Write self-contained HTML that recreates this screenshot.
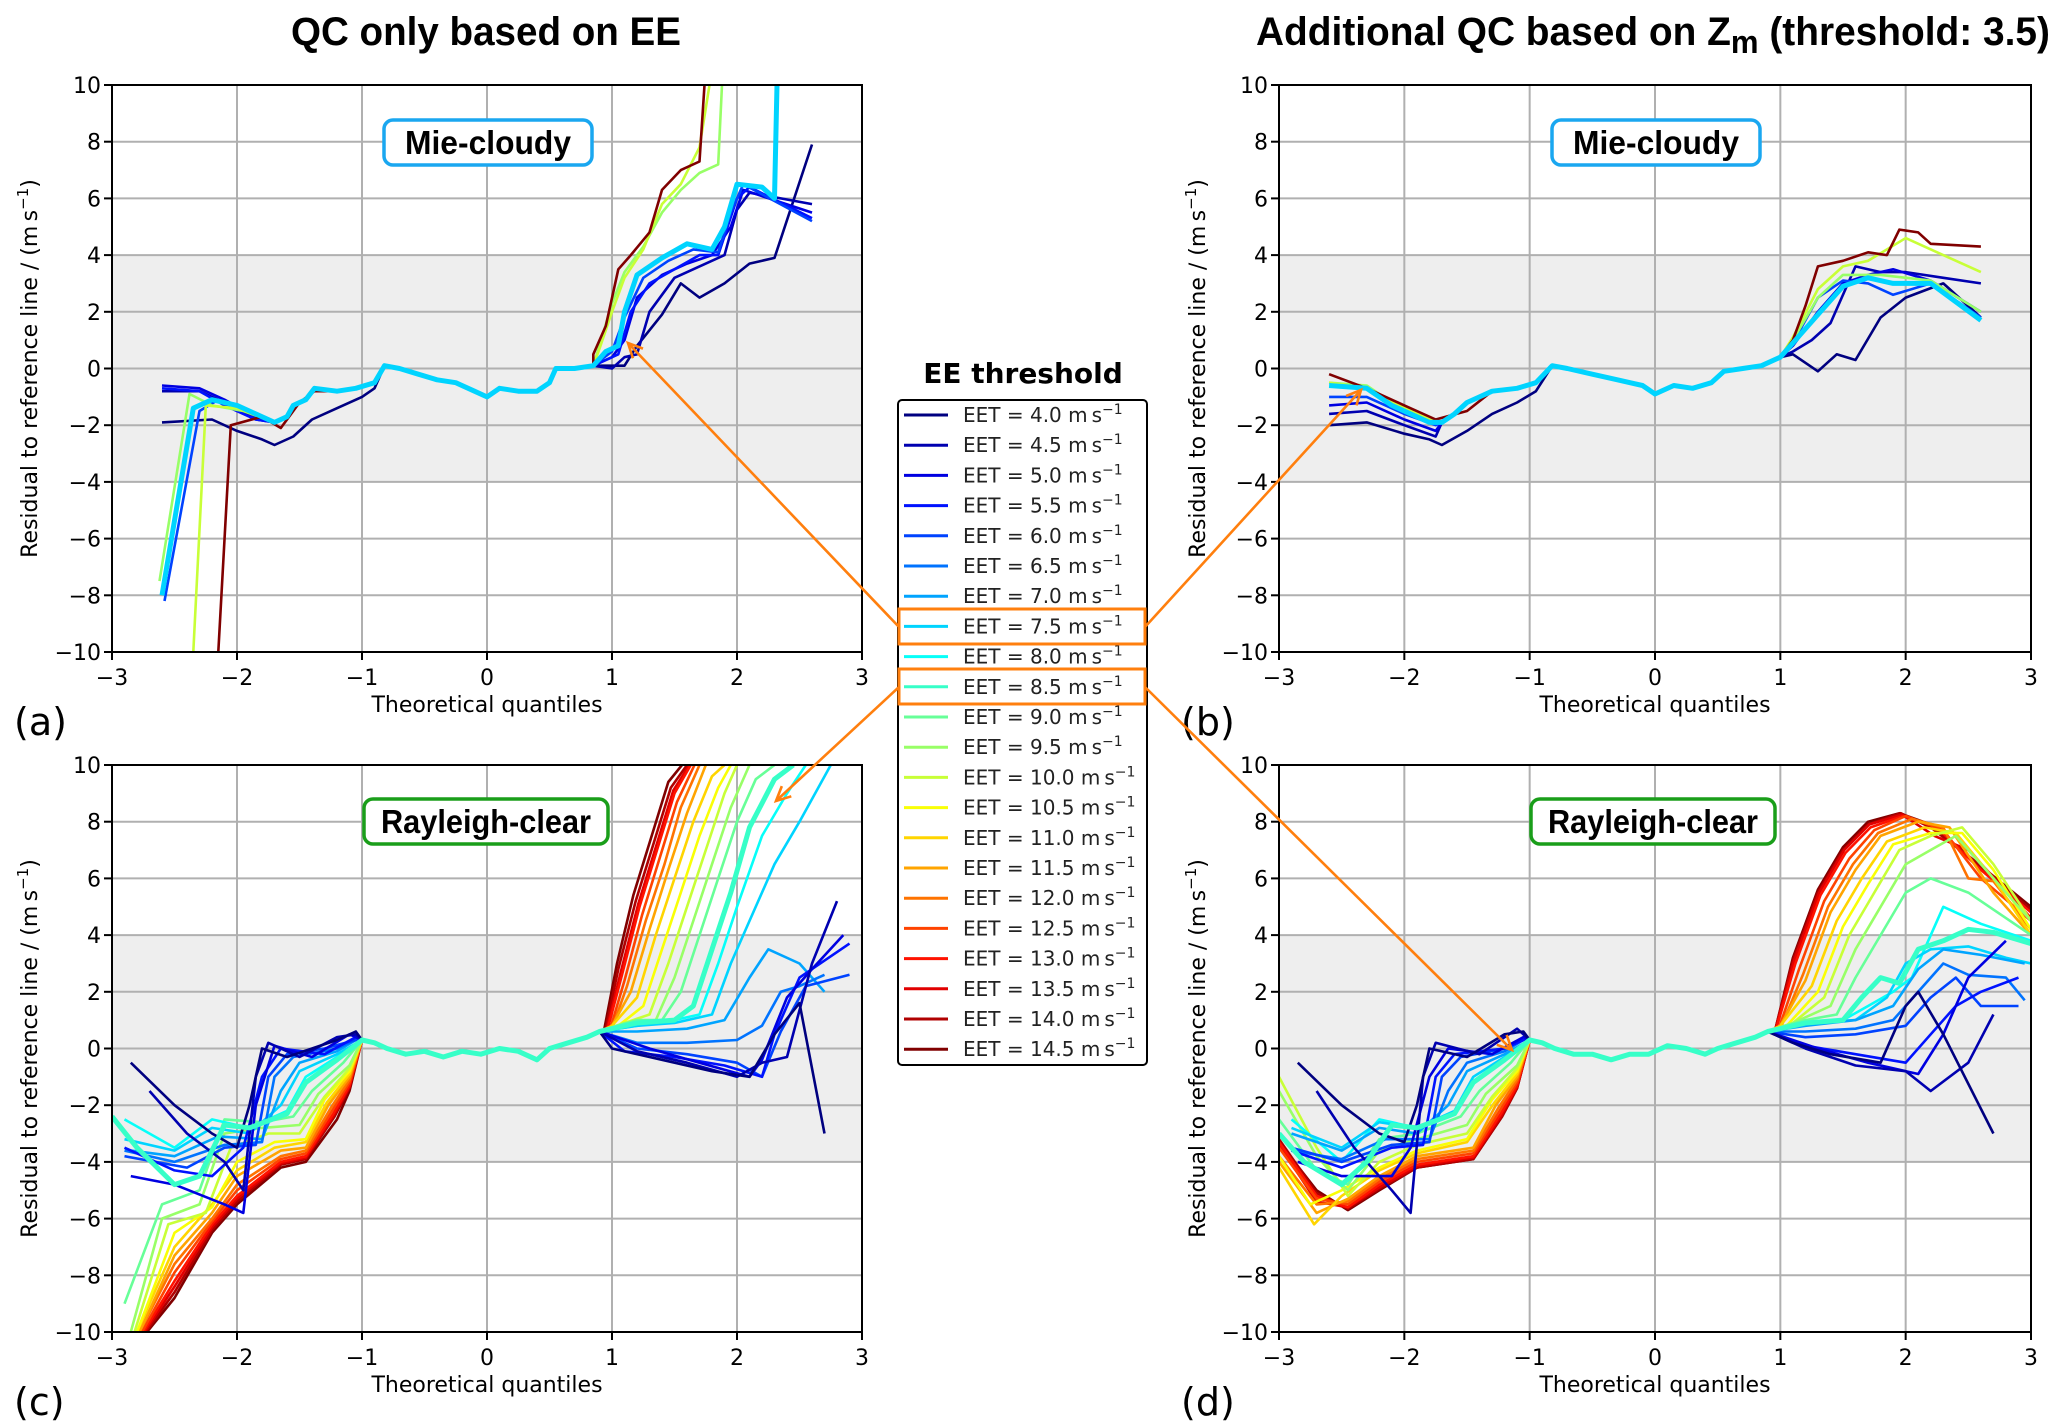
<!DOCTYPE html>
<html><head><meta charset="utf-8"><style>
html,body{margin:0;padding:0;background:#fff;width:2067px;height:1428px;overflow:hidden}
svg{display:block}
</style></head><body>
<svg id="fig" width="2067" height="1428" viewBox="0 0 2067 1428" xmlns="http://www.w3.org/2000/svg"></svg>
<script>
const xTicks=[-3,-2,-1,0,1,2,3];
const yTicks=[-10,-8,-6,-4,-2,0,2,4,6,8,10];
const eetValues=[4.0,4.5,5.0,5.5,6.0,6.5,7.0,7.5,8.0,8.5,9.0,9.5,10.0,10.5,11.0,11.5,12.0,12.5,13.0,13.5,14.0,14.5];
const bandLow=-4, bandHigh=4;

// ---------- panel a (Mie-cloudy, EE only) ----------
const aLeft=[[-1.7,-1.9],[-1.6,-1.7],[-1.55,-1.3],[-1.45,-1.1],[-1.38,-0.7],[-1.2,-0.8],[-1.05,-0.7],[-0.9,-0.5]];
const aCore=[[-0.82,0.1],[-0.7,0.0],[-0.55,-0.2],[-0.4,-0.4],[-0.25,-0.5],[-0.1,-0.8],[0,-1.0],[0.1,-0.7],[0.25,-0.8],[0.4,-0.8],[0.5,-0.5],[0.55,0.0],[0.7,0.0],[0.85,0.1]];
const aS0=[[-2.6,-1.9],[-2.2,-1.8],[-2.0,-2.2],[-1.8,-2.5],[-1.7,-2.7],[-1.55,-2.4],[-1.4,-1.8],[-1.2,-1.4],[-1.0,-1.0],[-0.9,-0.7],...aCore,[1.1,0.1],[1.2,0.8],[1.4,1.9],[1.55,3.0],[1.7,2.5],[1.9,3.0],[2.1,3.7],[2.3,3.9],[2.6,7.9]];
const aS1=[[-2.6,-0.8],[-2.3,-0.8],[-2.1,-1.2],[-1.85,-1.8],...aLeft,...aCore,[1.0,0.0],[1.1,0.4],[1.2,0.5],[1.3,2.0],[1.5,3.2],[1.7,3.6],[1.9,4.0],[2.0,5.6],[2.1,6.2],[2.6,5.8]];
const aS2=[[-2.6,-0.6],[-2.3,-0.7],[-2.1,-1.1],[-1.85,-1.7],...aLeft,...aCore,[1.0,0.4],[1.1,1.0],[1.2,2.5],[1.4,3.3],[1.6,3.7],[1.8,4.0],[1.95,5.0],[2.05,6.3],[2.6,5.5]];
const aS3=[[-2.6,-0.7],[-2.3,-0.8],[-2.1,-1.3],[-1.85,-1.8],...aLeft,...aCore,[1.05,0.5],[1.15,2.0],[1.3,3.0],[1.5,3.5],[1.7,4.0],[1.85,4.0],[2.0,6.0],[2.1,6.4],[2.6,5.3]];
const aS4=[[-2.58,-8.2],[-2.3,-1.5],[-2.15,-1.1],[-1.9,-1.5],...aLeft,...aCore,[1.0,0.6],[1.1,1.8],[1.25,3.2],[1.45,3.8],[1.65,4.2],[1.85,4.1],[1.95,5.5],[2.05,6.5],[2.6,5.2]];
const aS7=[[-2.6,-8.0],[-2.35,-1.4],[-2.2,-1.1],[-2.0,-1.3],...aLeft,...aCore,[0.95,0.6],[1.05,0.8],[1.1,2.0],[1.2,3.3],[1.4,3.9],[1.6,4.4],[1.8,4.2],[1.9,5.0],[2.0,6.5],[2.2,6.4],[2.3,6.0],[2.32,10]];
const aS11=[[-2.62,-7.5],[-2.38,-0.9],[-2.2,-1.3],[-1.95,-1.5],...aLeft,...aCore,[0.9,0.8],[1.0,2.3],[1.1,3.4],[1.25,4.3],[1.4,5.5],[1.55,6.3],[1.7,6.9],[1.85,7.2],[1.88,10]];
const aS12=[[-2.35,-10],[-2.25,-1.3],[-2.0,-1.4],...aLeft,...aCore,[0.9,0.7],[1.0,2.0],[1.1,3.2],[1.25,4.2],[1.4,5.8],[1.55,6.5],[1.7,7.8],[1.78,10]];
const aS21=[[-2.15,-10],[-2.05,-2.0],[-1.8,-1.7],[-1.65,-2.1],[-1.5,-1.2],[-1.38,-0.8],[-1.2,-0.8],[-1.05,-0.7],[-0.9,-0.5],...aCore,[0.85,0.5],[0.95,1.5],[1.05,3.5],[1.15,4.0],[1.3,4.8],[1.4,6.3],[1.55,7.0],[1.7,7.3],[1.74,10]];
const aIdx=[0,1,2,3,4,11,12,21,7];
const aSeries=[aS0,aS1,aS2,aS3,aS4,aS11,aS12,aS21,aS7];

// ---------- panel b (Mie-cloudy, Zm QC) ----------
const bLeft=[[-1.7,-1.9],[-1.6,-1.6],[-1.5,-1.2],[-1.4,-1.0],[-1.3,-0.8],[-1.1,-0.7],[-0.95,-0.5]];
const bCore=[[-0.82,0.1],[-0.7,0.0],[-0.5,-0.2],[-0.3,-0.4],[-0.1,-0.6],[0,-0.9],[0.15,-0.6],[0.3,-0.7],[0.45,-0.5],[0.55,-0.1],[0.7,0.0],[0.85,0.1],[1.0,0.4]];
const bS0=[[-2.6,-2.0],[-2.3,-1.9],[-2.0,-2.3],[-1.8,-2.5],[-1.7,-2.7],[-1.5,-2.2],[-1.3,-1.6],[-1.1,-1.2],[-0.95,-0.8],...bCore,[1.1,0.5],[1.3,-0.1],[1.45,0.5],[1.6,0.3],[1.8,1.8],[2.0,2.5],[2.3,3.0],[2.6,1.8]];
const bS1=[[-2.6,-1.6],[-2.3,-1.5],[-2.0,-2.0],[-1.75,-2.4],...bLeft,...bCore,[1.1,0.6],[1.25,1.0],[1.4,1.6],[1.6,3.6],[1.8,3.4],[2.0,3.4],[2.3,3.2],[2.6,3.0]];
const bS2=[[-2.6,-1.3],[-2.3,-1.2],[-2.0,-1.8],[-1.75,-2.2],...bLeft,...bCore,[1.1,0.8],[1.3,2.0],[1.5,3.0],[1.7,3.3],[1.9,3.5],[2.2,3.1],[2.6,2.0]];
const bS4=[[-2.6,-1.0],[-2.3,-1.0],[-2.0,-1.6],[-1.75,-2.0],...bLeft,...bCore,[1.1,0.9],[1.3,2.5],[1.5,3.1],[1.7,3.0],[1.9,2.6],[2.2,3.0],[2.6,1.8]];
const bS11=[[-2.6,-0.5],[-2.3,-0.6],[-2.1,-1.2],[-1.8,-1.8],...bLeft,...bCore,[1.1,1.0],[1.3,2.5],[1.5,3.3],[1.8,3.3],[2.2,3.1],[2.6,2.0]];
const bS12=[[-2.6,-0.5],[-2.3,-0.7],[-2.1,-1.2],[-1.8,-1.8],...bLeft,...bCore,[1.1,1.1],[1.3,2.8],[1.5,3.6],[1.7,3.8],[2.0,4.6],[2.6,3.4]];
const bS21=[[-2.6,-0.2],[-2.3,-0.7],[-2.0,-1.3],[-1.75,-1.8],[-1.5,-1.5],[-1.3,-0.8],[-1.1,-0.7],[-0.95,-0.5],...bCore,[1.1,1.0],[1.2,2.2],[1.3,3.6],[1.5,3.8],[1.7,4.1],[1.85,4.0],[1.95,4.9],[2.1,4.8],[2.2,4.4],[2.6,4.3]];
const bS7=[[-2.6,-0.6],[-2.3,-0.7],[-2.1,-1.3],[-1.8,-1.9],...bLeft,...bCore,[1.1,0.9],[1.3,1.9],[1.5,2.9],[1.7,3.2],[1.9,3.0],[2.2,3.0],[2.6,1.7]];
const bIdx=[0,1,2,4,11,12,21,7];
const bSeries=[bS0,bS1,bS2,bS4,bS11,bS12,bS21,bS7];

// ---------- panel c (Rayleigh-clear, EE only) ----------
const cCore=[[-1.0,0.3],[-0.9,0.2],[-0.8,0.0],[-0.65,-0.2],[-0.5,-0.1],[-0.35,-0.3],[-0.2,-0.1],[-0.05,-0.2],[0.1,0.0],[0.25,-0.1],[0.4,-0.4],[0.5,0.0],[0.65,0.2],[0.8,0.4],[0.9,0.6]];
const cS0=[[-2.85,-0.5],[-2.5,-2.0],[-2.2,-3.0],[-2.0,-3.5],[-1.9,-2.0],[-1.8,0],[-1.6,-0.3],[-1.4,0],[-1.2,0.3],[-1.05,0.6],...cCore,[1.0,0],[1.4,-0.4],[1.8,-0.8],[2.1,-1.0],[2.3,0.5],[2.5,1.6],[2.7,-3.0]];
const cS1=[[-2.7,-1.5],[-2.4,-3.0],[-2.1,-4.0],[-1.95,-5.0],[-1.85,-1.0],[-1.75,0.2],[-1.5,-0.3],[-1.2,0.4],[-1.05,0.5],...cCore,[1.2,-0.1],[1.6,-0.5],[2.0,-1.0],[2.2,-0.5],[2.4,-0.3],[2.6,3.0],[2.8,5.2]];
const cS2=[[-2.85,-4.5],[-2.5,-4.8],[-2.1,-5.5],[-1.95,-5.8],[-1.85,-2.0],[-1.7,0.1],[-1.4,-0.3],[-1.1,0.5],...cCore,[1.3,0],[1.7,-0.5],[2.1,-1.0],[2.2,-0.4],[2.4,1.8],[2.6,2.8],[2.85,4.0]];
const cS3=[[-2.9,-3.5],[-2.5,-4.3],[-2.2,-4.5],[-1.95,-3.5],[-1.8,-1.0],[-1.65,0],[-1.3,-0.2],[-1.05,0.4],...cCore,[1.1,-0.1],[1.5,-0.3],[1.9,-0.6],[2.2,-1.0],[2.3,0.5],[2.5,2.5],[2.9,3.7]];
const cS4=[[-2.9,-3.8],[-2.4,-4.2],[-2.1,-3.5],[-1.85,-3.4],[-1.75,-1.0],[-1.6,-0.2],[-1.3,0],[-1.05,0.3],...cCore,[1.2,0],[1.6,-0.2],[2.0,-0.5],[2.2,-1.0],[2.35,0.6],[2.55,2.2],[2.9,2.6]];
const cS5=[[-2.9,-3.6],[-2.5,-4.0],[-2.1,-3.4],[-1.8,-3.3],[-1.7,-1.0],[-1.55,-0.3],[-1.2,0],[-1.05,0.3],...cCore,[1.2,0.2],[1.6,0.2],[2.0,0.3],[2.2,0.8],[2.35,2.0],[2.5,2.2],[2.7,2.6]];
const cS6=[[-2.85,-3.6],[-2.5,-3.8],[-2.15,-3.1],[-1.8,-3.2],[-1.65,-1.5],[-1.5,-0.5],[-1.2,-0.1],[-1.05,0.3],...cCore,[1.2,0.6],[1.6,0.7],[1.9,1.0],[2.1,2.5],[2.25,3.5],[2.5,3.0],[2.7,2.0]];
const cS7=[[-2.9,-3.2],[-2.5,-3.6],[-2.2,-2.8],[-1.9,-3.0],[-1.65,-2.0],[-1.5,-0.8],[-1.2,-0.2],...cCore,[1.2,0.8],[1.5,0.9],[1.8,1.2],[1.95,3.0],[2.1,4.5],[2.3,6.5],[2.5,8.0],[2.75,10]];
const cS8=[[-2.9,-2.5],[-2.5,-3.5],[-2.2,-2.5],[-1.9,-2.8],[-1.6,-2.2],[-1.45,-1.0],[-1.2,-0.3],...cCore,[1.2,0.8],[1.5,1.0],[1.7,1.2],[1.85,3.0],[2.0,5.0],[2.2,7.5],[2.4,9.0],[2.55,10]];
const cS9=[[-3,-2.4],[-2.8,-3.5],[-2.5,-4.8],[-2.3,-4.5],[-2.1,-2.7],[-1.9,-2.8],[-1.6,-2.3],[-1.45,-1.2],[-1.2,-0.4],...cCore,[1.2,0.9],[1.5,1.0],[1.65,1.5],[1.8,3.5],[1.95,5.5],[2.1,7.8],[2.3,9.5],[2.45,10]];
const cS10=[[-2.9,-9],[-2.6,-5.5],[-2.3,-5.0],[-2.1,-2.5],[-1.8,-2.6],[-1.55,-2.4],[-1.4,-1.5],[-1.15,-0.5],...cCore,[1.2,1.0],[1.4,1.0],[1.55,2.0],[1.7,4.0],[1.85,6.0],[2.0,8.0],[2.15,9.5],[2.3,10]];
const cS11=[[-2.85,-10],[-2.6,-6],[-2.3,-5.5],[-2.1,-3.0],[-1.8,-2.8],[-1.5,-2.7],[-1.35,-1.6],[-1.1,-0.6],...cCore,[1.1,0.9],[1.35,1.0],[1.5,2.5],[1.65,4.5],[1.8,6.5],[1.95,8.5],[2.1,10]];
const cS12=[[-2.82,-10],[-2.55,-6.2],[-2.25,-5.8],[-2.05,-3.5],[-1.75,-3.0],[-1.5,-3.0],[-1.3,-1.7],[-1.1,-0.7],...cCore,[1.1,0.9],[1.3,1.2],[1.45,3.0],[1.6,5.0],[1.75,7.0],[1.9,9.0],[2.0,10]];
const cS13=[[-2.8,-10],[-2.5,-6.5],[-2.2,-5.6],[-2.0,-4.0],[-1.7,-3.3],[-1.45,-3.2],[-1.3,-1.8],[-1.1,-0.8],...cCore,[1.05,0.8],[1.25,1.5],[1.4,3.5],[1.55,5.5],[1.7,7.5],[1.85,9.2],[1.95,10]];
const cS14=[[-2.8,-10],[-2.5,-7.0],[-2.2,-5.5],[-2.0,-4.3],[-1.7,-3.5],[-1.45,-3.3],[-1.28,-1.9],[-1.1,-0.9],...cCore,[1.0,0.8],[1.2,1.8],[1.35,4.0],[1.5,6.0],[1.65,8.0],[1.8,9.6],[1.9,10]];
const cS15=[[-2.78,-10],[-2.5,-7.3],[-2.2,-5.8],[-2.0,-4.5],[-1.65,-3.6],[-1.45,-3.5],[-1.27,-2.0],[-1.1,-1.0],...cCore,[1.0,0.8],[1.15,2.0],[1.3,4.2],[1.45,6.3],[1.6,8.3],[1.75,10]];
const cS16=[[-2.78,-10],[-2.5,-7.6],[-2.2,-6.0],[-2.0,-4.8],[-1.65,-3.8],[-1.45,-3.6],[-1.25,-2.1],[-1.1,-1.1],...cCore,[1.0,0.7],[1.12,2.2],[1.27,4.5],[1.42,6.5],[1.55,8.5],[1.7,10]];
const cS17=[[-2.76,-10],[-2.5,-7.9],[-2.2,-6.1],[-2.0,-5.0],[-1.65,-3.9],[-1.45,-3.7],[-1.24,-2.2],[-1.1,-1.2],...cCore,[0.98,0.6],[1.1,2.4],[1.24,4.7],[1.38,6.7],[1.52,8.7],[1.66,10]];
const cS18=[[-2.75,-10],[-2.5,-8.2],[-2.2,-6.2],[-2.0,-5.2],[-1.65,-4.0],[-1.45,-3.8],[-1.23,-2.3],[-1.1,-1.3],...cCore,[0.96,0.6],[1.08,2.6],[1.22,5.0],[1.36,7.0],[1.5,9.0],[1.63,10]];
const cS19=[[-2.74,-10],[-2.5,-8.4],[-2.2,-6.3],[-2.0,-5.3],[-1.65,-4.05],[-1.45,-3.85],[-1.225,-2.35],[-1.1,-1.35],...cCore,[0.95,0.55],[1.07,2.7],[1.21,5.1],[1.35,7.1],[1.49,9.1],[1.62,10]];
const cS20=[[-2.73,-10],[-2.5,-8.6],[-2.2,-6.4],[-2.0,-5.4],[-1.65,-4.1],[-1.45,-3.9],[-1.22,-2.4],[-1.1,-1.4],...cCore,[0.94,0.5],[1.05,2.8],[1.19,5.2],[1.33,7.2],[1.47,9.2],[1.6,10]];
const cS21=[[-2.72,-10],[-2.5,-8.8],[-2.2,-6.5],[-2.0,-5.5],[-1.65,-4.2],[-1.45,-4.0],[-1.2,-2.5],[-1.1,-1.5],...cCore,[0.93,0.5],[1.04,3.0],[1.17,5.4],[1.31,7.4],[1.45,9.4],[1.56,10]];
const cIdx=[21,20,19,18,17,16,15,14,13,12,11,10,8,7,6,5,4,3,2,1,0,9];
const cSeries=[cS21,cS20,cS19,cS18,cS17,cS16,cS15,cS14,cS13,cS12,cS11,cS10,cS8,cS7,cS6,cS5,cS4,cS3,cS2,cS1,cS0,cS9];

// ---------- panel d (Rayleigh-clear, Zm QC) ----------
const dCore=[[-1.0,0.3],[-0.9,0.2],[-0.8,0.0],[-0.65,-0.2],[-0.5,-0.2],[-0.35,-0.4],[-0.2,-0.2],[-0.05,-0.2],[0.1,0.1],[0.25,0.0],[0.4,-0.2],[0.5,0.0],[0.65,0.2],[0.8,0.4],[0.9,0.6]];
const dS0=[[-2.85,-0.5],[-2.5,-2.0],[-2.2,-3.0],[-2.0,-3.3],[-1.9,-2.0],[-1.8,0],[-1.5,-0.3],[-1.2,0.5],[-1.05,0.6],...dCore,[1.1,0.2],[1.4,-0.2],[1.8,-0.5],[2.0,1.5],[2.1,2.0],[2.3,0.5],[2.7,-3.0]];
const dS1=[[-2.7,-1.5],[-2.4,-3.5],[-2.1,-5.0],[-1.95,-5.8],[-1.85,-1.0],[-1.75,0.2],[-1.4,-0.2],[-1.1,0.7],...dCore,[1.2,0],[1.6,-0.6],[2.0,-0.8],[2.2,-1.5],[2.5,-0.5],[2.7,1.2]];
const dS2=[[-2.85,-4.0],[-2.5,-4.5],[-2.1,-4.5],[-1.95,-3.5],[-1.8,-1.0],[-1.65,0],[-1.3,-0.2],[-1.05,0.4],...dCore,[1.3,0],[1.7,-0.5],[2.1,-0.9],[2.3,0.5],[2.5,2.5],[2.8,3.8]];
const dS3=[[-2.9,-3.6],[-2.5,-4.2],[-2.1,-3.5],[-1.85,-3.4],[-1.75,-1.0],[-1.6,-0.2],[-1.2,0],[-1.05,0.3],...dCore,[1.2,0.1],[1.6,-0.2],[2.0,-0.5],[2.2,0.5],[2.4,1.5],[2.6,2.0],[2.9,2.5]];
const dS4=[[-2.9,-3.5],[-2.5,-4.0],[-2.1,-3.4],[-1.8,-3.3],[-1.7,-1.0],[-1.55,-0.3],[-1.2,0],[-1.05,0.3],...dCore,[1.2,0.4],[1.6,0.5],[2.0,0.8],[2.2,1.8],[2.4,2.5],[2.6,1.5],[2.9,1.5]];
const dS5=[[-2.9,-3.6],[-2.5,-3.9],[-2.15,-3.2],[-1.8,-3.2],[-1.65,-1.5],[-1.5,-0.5],[-1.2,-0.1],[-1.05,0.3],...dCore,[1.2,0.6],[1.6,0.7],[1.9,1.0],[2.1,2.0],[2.3,3.0],[2.5,2.6],[2.8,2.5],[2.95,1.7]];
const dS6=[[-2.9,-3.0],[-2.5,-3.6],[-2.2,-2.8],[-1.9,-3.0],[-1.65,-2.0],[-1.5,-0.8],[-1.2,-0.2],...dCore,[1.2,0.8],[1.6,1.0],[1.9,1.5],[2.1,2.8],[2.3,3.5],[2.6,3.3],[2.95,3.0]];
const dS7=[[-2.9,-2.8],[-2.5,-3.5],[-2.2,-2.6],[-1.9,-2.8],[-1.6,-2.2],[-1.45,-1.0],[-1.2,-0.3],...dCore,[1.2,0.9],[1.6,1.0],[1.85,1.8],[2.0,3.0],[2.2,3.5],[2.5,3.6],[2.8,3.2],[3.0,3.0]];
const dS8=[[-2.9,-2.5],[-2.5,-4.0],[-2.2,-2.5],[-1.9,-2.8],[-1.6,-2.3],[-1.45,-1.2],[-1.2,-0.4],...dCore,[1.2,0.9],[1.5,1.0],[1.7,1.5],[1.9,2.0],[2.05,2.5],[2.3,5.0],[2.6,4.4],[3.0,3.8]];
const dS9=[[-3,-3.0],[-2.8,-4.0],[-2.5,-4.8],[-2.3,-4.0],[-2.1,-2.7],[-1.9,-2.8],[-1.6,-2.3],[-1.45,-1.2],[-1.2,-0.4],...dCore,[1.2,0.9],[1.5,1.0],[1.65,1.8],[1.8,2.5],[1.95,2.3],[2.1,3.5],[2.3,3.8],[2.5,4.2],[2.7,4.1],[3.0,3.7]];
const dS10=[[-3,-2.5],[-2.7,-4.3],[-2.45,-4.8],[-2.2,-3.2],[-1.9,-3.0],[-1.55,-2.4],[-1.4,-1.5],[-1.15,-0.5],...dCore,[1.2,1.0],[1.45,1.2],[1.6,2.5],[1.8,4.0],[2.0,5.5],[2.2,6.0],[2.5,5.5],[3.0,4.0]];
const dS11=[[-3,-1.5],[-2.7,-3.8],[-2.45,-5.0],[-2.2,-3.6],[-1.9,-3.2],[-1.5,-2.7],[-1.35,-1.6],[-1.1,-0.6],...dCore,[1.1,0.9],[1.4,1.5],[1.6,3.5],[1.8,5.0],[2.0,6.5],[2.2,7.0],[2.4,7.5],[2.7,6.0],[3.0,4.5]];
const dS12=[[-3,-1.0],[-2.7,-3.5],[-2.45,-5.2],[-2.2,-4.0],[-1.9,-3.4],[-1.5,-3.0],[-1.3,-1.7],[-1.1,-0.7],...dCore,[1.1,0.9],[1.35,1.8],[1.55,4.0],[1.75,5.5],[1.95,7.0],[2.2,7.5],[2.45,7.8],[2.7,6.5],[3.0,4.5]];
const dS13=[[-3,-3.8],[-2.75,-5.5],[-2.5,-5.0],[-2.2,-4.2],[-1.9,-3.6],[-1.5,-3.2],[-1.3,-1.8],[-1.1,-0.8],...dCore,[1.05,0.8],[1.3,2.0],[1.5,4.3],[1.7,5.8],[1.9,7.2],[2.2,7.6],[2.45,7.6],[2.7,6.3],[3.0,4.2]];
const dS14=[[-3,-4.2],[-2.72,-6.2],[-2.5,-5.2],[-2.2,-4.3],[-1.9,-3.7],[-1.5,-3.3],[-1.28,-1.9],[-1.1,-0.9],...dCore,[1.0,0.8],[1.25,2.2],[1.45,4.5],[1.65,6.0],[1.85,7.3],[2.15,7.8],[2.4,7.6],[2.7,6.0],[3.0,4.0]];
const dS15=[[-3,-4.0],[-2.7,-5.8],[-2.45,-5.3],[-2.2,-4.5],[-1.9,-3.8],[-1.45,-3.5],[-1.27,-2.0],[-1.1,-1.0],...dCore,[1.0,0.8],[1.2,2.4],[1.4,4.8],[1.6,6.3],[1.8,7.5],[2.1,8.0],[2.35,7.8],[2.7,5.5],[3.0,4.0]];
const dS16=[[-3,-3.8],[-2.7,-5.5],[-2.45,-5.4],[-2.2,-4.6],[-1.9,-3.9],[-1.45,-3.6],[-1.25,-2.1],[-1.1,-1.1],...dCore,[1.0,0.7],[1.18,2.6],[1.38,5.0],[1.58,6.5],[1.78,7.6],[2.05,8.1],[2.3,7.8],[2.5,6.0],[2.7,5.9],[3.0,4.2]];
const dS17=[[-3,-3.5],[-2.7,-5.3],[-2.45,-5.5],[-2.2,-4.7],[-1.9,-4.0],[-1.45,-3.7],[-1.24,-2.2],[-1.1,-1.2],...dCore,[0.98,0.6],[1.15,2.8],[1.35,5.2],[1.55,6.7],[1.75,7.7],[2.0,8.2],[2.3,7.7],[2.6,6.0],[3.0,4.5]];
const dS18=[[-3,-3.3],[-2.7,-5.2],[-2.45,-5.6],[-2.2,-4.8],[-1.9,-4.1],[-1.45,-3.8],[-1.23,-2.3],[-1.1,-1.3],...dCore,[0.96,0.6],[1.12,3.0],[1.32,5.4],[1.52,6.9],[1.72,7.8],[1.98,8.2],[2.25,7.8],[2.6,6.3],[3.0,4.8]];
const dS19=[[-3,-3.4],[-2.7,-5.4],[-2.45,-5.6],[-2.2,-4.9],[-1.9,-4.15],[-1.45,-3.85],[-1.225,-2.35],[-1.1,-1.35],...dCore,[0.955,0.55],[1.11,3.1],[1.31,5.5],[1.51,7.0],[1.71,7.9],[1.97,8.25],[2.23,7.5],[2.5,7.0],[3.0,4.6]];
const dS20=[[-3,-3.2],[-2.7,-5.1],[-2.45,-5.65],[-2.2,-4.95],[-1.9,-4.2],[-1.45,-3.9],[-1.22,-2.4],[-1.1,-1.4],...dCore,[0.95,0.5],[1.1,3.1],[1.3,5.5],[1.5,7.0],[1.7,7.9],[1.96,8.3],[2.2,7.8],[2.55,6.6],[3.0,4.9]];
const dS21=[[-3,-3.3],[-2.7,-5.0],[-2.45,-5.7],[-2.2,-5.0],[-1.9,-4.2],[-1.45,-3.9],[-1.22,-2.4],[-1.1,-1.4],...dCore,[0.95,0.5],[1.1,3.2],[1.3,5.6],[1.5,7.1],[1.7,8.0],[1.95,8.3],[2.2,7.9],[2.5,6.8],[3.0,5.0]];
const dIdx=[21,20,19,18,17,16,15,14,13,12,11,10,8,7,6,5,4,3,2,1,0,9];
const dSeries=[dS21,dS20,dS19,dS18,dS17,dS16,dS15,dS14,dS13,dS12,dS11,dS10,dS8,dS7,dS6,dS5,dS4,dS3,dS2,dS1,dS0,dS9];

const NS='http://www.w3.org/2000/svg';
const svg=document.getElementById('fig');
function mk(tag,attrs,parent){const e=document.createElementNS(NS,tag);for(const k in attrs)e.setAttribute(k,attrs[k]);(parent||svg).appendChild(e);return e;}
function jet(t){const c=v=>Math.round(255*Math.max(0,Math.min(1,v)));return `rgb(${c(1.5-Math.abs(4*t-3))},${c(1.5-Math.abs(4*t-2))},${c(1.5-Math.abs(4*t-1))})`;}
function col(i){return jet(i/(eetValues.length-1));}
const FONT='"DejaVu Sans", "Liberation Sans", sans-serif';
const NARROW='"Liberation Sans Narrow", "Liberation Sans", sans-serif';

const panels=[
 {key:'a',x0:112,x1:862,y0:85,y1:652,idx:aIdx,data:aSeries,thick:7,label:'Mie-cloudy',lc:'#1aa7f0',bx:384,by:120,bw:208,bh:45,tw:166,ylx:29,letter:'(a)',lx:14},
 {key:'b',x0:1279,x1:2031,y0:85,y1:652,idx:bIdx,data:bSeries,thick:7,label:'Mie-cloudy',lc:'#1aa7f0',bx:1552,by:120,bw:208,bh:45,tw:166,ylx:1197,letter:'(b)',lx:1181},
 {key:'c',x0:112,x1:862,y0:765,y1:1332,idx:cIdx,data:cSeries,thick:9,label:'Rayleigh-clear',lc:'#1a9e1a',bx:364,by:799,bw:244,bh:45,tw:210,ylx:29,letter:'(c)',lx:14},
 {key:'d',x0:1279,x1:2031,y0:765,y1:1332,idx:dIdx,data:dSeries,thick:9,label:'Rayleigh-clear',lc:'#1a9e1a',bx:1531,by:799,bw:244,bh:45,tw:210,ylx:1197,letter:'(d)',lx:1181}
];

panels.forEach(p=>{
 const sx=v=>p.x0+(v-xTicks[0])/(xTicks[xTicks.length-1]-xTicks[0])*(p.x1-p.x0);
 const sy=v=>p.y1-(v-yTicks[0])/(yTicks[yTicks.length-1]-yTicks[0])*(p.y1-p.y0);
 const g=mk('g',{});
 
 
 const band=mk('rect',{x:p.x0,y:sy(bandHigh),width:p.x1-p.x0,height:sy(bandLow)-sy(bandHigh),fill:'#eeeeee'},g);
 
 
 xTicks.forEach(t=>{
  const l=mk('line',{x1:sx(t),x2:sx(t),y1:p.y0,y2:p.y1,stroke:'#b0b0b0','stroke-width':2},g);
  
  
  const tk=mk('line',{x1:sx(t),x2:sx(t),y1:p.y1,y2:p.y1+8,stroke:'#000','stroke-width':2},g);
  
  
  const tl=mk('text',{x:sx(t),y:p.y1+33,'text-anchor':'middle','font-family':FONT,'font-size':22,fill:'#000'},g);
  tl.textContent=(t<0?'\u2212'+(-t):String(t));
  
  
 });
 yTicks.forEach(t=>{
  const l=mk('line',{x1:p.x0,x2:p.x1,y1:sy(t),y2:sy(t),stroke:'#b0b0b0','stroke-width':2},g);
  
  
  const tk=mk('line',{x1:p.x0-8,x2:p.x0,y1:sy(t),y2:sy(t),stroke:'#000','stroke-width':2},g);
  
  
  const tl=mk('text',{x:p.x0-11,y:sy(t)+8,'text-anchor':'end','font-family':FONT,'font-size':22,fill:'#000'},g);
  tl.textContent=(t<0?'\u2212'+(-t):String(t));
  
  
 });
 const cp=mk('clipPath',{id:'clip-'+p.key},g);
 mk('rect',{x:p.x0,y:p.y0,width:p.x1-p.x0,height:p.y1-p.y0},cp);
 const lg=mk('g',{'clip-path':'url(#clip-'+p.key+')'},g);
 
 
 p.data.forEach((pts,k)=>{
  const i=p.idx[k];
  const pl=mk('polyline',{points:pts.map(q=>sx(q[0]).toFixed(1)+','+sy(q[1]).toFixed(1)).join(' '),fill:'none',stroke:col(i),'stroke-width':i===p.thick?5:2.6,'stroke-linejoin':'round'},lg);
  
  
 });
 const fr=mk('rect',{x:p.x0,y:p.y0,width:p.x1-p.x0,height:p.y1-p.y0,fill:'none',stroke:'#000','stroke-width':2},g);
 
 
 const bx=mk('rect',{x:p.bx,y:p.by,width:p.bw,height:p.bh,rx:9,fill:'#fff',stroke:p.lc,'stroke-width':3.5},g);
 
 
 const bt=mk('text',{x:p.bx+p.bw/2,y:p.by+34,'text-anchor':'middle','font-family':NARROW,'font-weight':'bold','font-size':33,fill:'#000',textLength:p.tw,lengthAdjust:'spacingAndGlyphs'},g);
 bt.textContent=p.label;
 
 
 const xl=mk('text',{x:(p.x0+p.x1)/2,y:p.y1+60,'text-anchor':'middle','font-family':FONT,'font-size':22,fill:'#000'},g);
 xl.textContent='Theoretical quantiles';
 
 
 const cy=(p.y0+p.y1)/2;
 const yl=mk('text',{x:p.ylx,y:cy,'text-anchor':'middle','font-family':FONT,'font-size':22,fill:'#000',transform:`rotate(-90 ${p.ylx} ${cy})`,dy:8},g);
 yl.innerHTML='Residual to reference line / (m\u2009s<tspan dy="-9" font-size="15">\u22121</tspan><tspan dy="9">)</tspan>';
 
 
 const lt=mk('text',{x:p.lx,y:p.y1+83,'font-family':FONT,'font-size':38,fill:'#000'},g);
 lt.textContent=p.letter;
 
 
});

// titles
const t1=mk('text',{x:486,y:45,'text-anchor':'middle','font-family':NARROW,'font-weight':'bold','font-size':40,textLength:390,lengthAdjust:'spacingAndGlyphs'});
t1.textContent='QC only based on EE';


const t2=mk('text',{x:1256,y:45,'font-family':NARROW,'font-weight':'bold','font-size':40,textLength:794,lengthAdjust:'spacingAndGlyphs'});
t2.innerHTML='Additional QC based on Z<tspan dy="8" font-size="32">m</tspan><tspan dy="-8"> (threshold: 3.5)</tspan>';



// legend
const lgT=mk('text',{x:1023,y:383,'text-anchor':'middle','font-family':FONT,'font-weight':'bold','font-size':28});
lgT.textContent='EE threshold';


const lgB=mk('rect',{x:898,y:400,width:249,height:665,rx:4,fill:'#fff',stroke:'#000','stroke-width':2});


eetValues.forEach((v,i)=>{
 const y=415+i*30.2;
 const ln=mk('line',{x1:904,x2:948,y1:y,y2:y,stroke:col(i),'stroke-width':3});
 
 
 const tx=mk('text',{x:963,y:y+7,'font-family':FONT,'font-size':20,fill:'#222'});
 tx.innerHTML='EET = '+v.toFixed(1)+' m\u2009s<tspan dy="-8" font-size="14">\u22121</tspan>';
 
 
});

// highlight boxes and arrows
const OR='#ff7f0e';
[[609,'7.5'],[669,'8.5']].forEach(([y,n])=>{
 const r=mk('rect',{x:899,y:y,width:246,height:35,fill:'none',stroke:OR,'stroke-width':3});
 
 
});
function arrow(x1,y1,x2,y2,name){
 const l=mk('line',{x1,y1,x2,y2,stroke:OR,'stroke-width':2.6});
 
 
 const a=Math.atan2(y2-y1,x2-x1),L=16,s=0.45;
 const p=`${x2-L*Math.cos(a-s)},${y2-L*Math.sin(a-s)} ${x2},${y2} ${x2-L*Math.cos(a+s)},${y2-L*Math.sin(a+s)}`;
 const h=mk('polyline',{points:p,fill:'none',stroke:OR,'stroke-width':2.6});
 
 
}
arrow(899,627,628,343,'arrow-to-panel-a');
arrow(1145,627,1361,390,'arrow-to-panel-b');
arrow(899,687,776,801,'arrow-to-panel-c');
arrow(1145,687,1512,1050,'arrow-to-panel-d');
</script>
</body></html>
